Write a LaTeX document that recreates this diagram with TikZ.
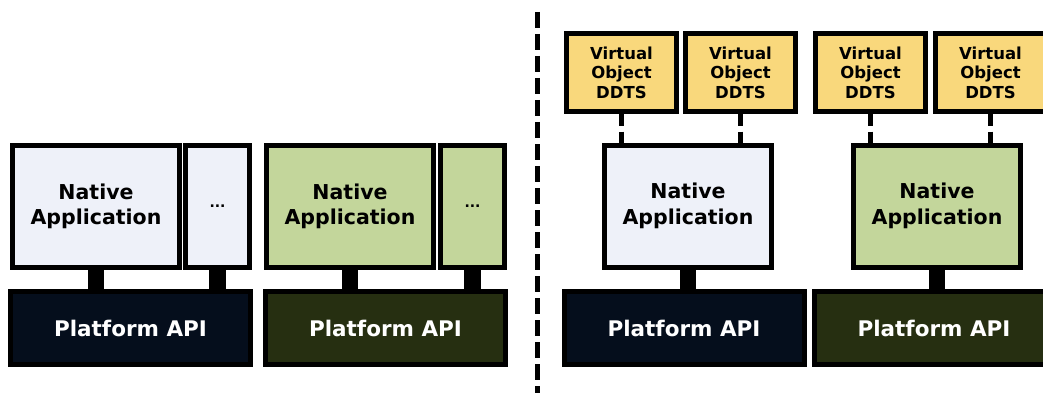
\documentclass[tikz,border=0pt]{standalone}
\usepackage{fontspec}
\setmainfont{DejaVu Sans}
\usepackage{tikz}
\usetikzlibrary{positioning}
\usepackage{xcolor}
\definecolor{paleblue}{HTML}{EEF1F9}
\definecolor{palegreen}{HTML}{C3D69B}
\definecolor{navy}{HTML}{050E1C}
\definecolor{darkolive}{HTML}{262F11}
\definecolor{gold}{HTML}{F9D87C}

\begin{document}
\begin{tikzpicture}[x=1pt, y=-1pt,
  app/.style = {draw, line width=5pt, fill=#1, minimum width=167pt, minimum height=122pt, inner sep=0pt, align=center, font=\bfseries\fontsize{20.5}{25.5}\selectfont},
  more/.style = {draw, line width=5pt, fill=#1, minimum width=64pt, minimum height=122pt, inner sep=0pt, font=\bfseries\fontsize{14}{16}\selectfont},
  api/.style = {draw, line width=5pt, fill=#1, text=white, minimum width=240pt, minimum height=73pt, inner sep=0pt, font=\bfseries\fontsize{21.5}{24}\selectfont},
  vobj/.style = {draw, line width=5pt, fill=gold, minimum width=110pt, minimum height=78pt, inner sep=0pt, align=center, font=\bfseries\fontsize{16.5}{19.5}\selectfont},
  bar/.style = {line width=16.5pt},
  vlink/.style = {line width=5pt, dash pattern=on 11.5pt off 6pt},
  divider/.style = {line width=5pt, dash pattern=on 16pt off 6pt}]
\useasboundingbox (0,0) rectangle (1043,393);
% left: native applications on the platform
\node[app=paleblue] (NA1) at (96,206.5) {Native\\Application};
\node[more=paleblue] (E1) [right=1pt of NA1] {...};
\node[api=navy] (P1) at (130.5,328) {Platform API};
\node[app=palegreen] (NA2) [right=12pt of E1] {Native\\Application};
\node[more=palegreen] (E2) [right=2pt of NA2] {...};
\node[api=darkolive] (P2) [right=10pt of P1] {Platform API};
\draw[bar] (NA1.south) -- (NA1.south |- P1.north);
\draw[bar] (E1.south) -- (E1.south |- P1.north);
\draw[bar] (NA2.south) -- (NA2.south |- P2.north);
\draw[bar] (E2.south) -- (E2.south |- P2.north);
% divider
\coordinate (T) at (537,12);
\coordinate (B) at (537,393);
\draw[divider] (T) -- (B);
% right: virtual objects on top of the native applications
\node[app=paleblue] (NA3) at (688,206) {Native\\Application};
\node[app=palegreen] (NA4) [right=77pt of NA3] {Native\\Application};
\node[api=navy] (P3) at (684,328) {Platform API};
\node[api=darkolive] (P4) [right=5pt of P3] {Platform API};
\node[vobj] (V1) at (621.5,72.5) {Virtual\\Object\\DDTS};
\node[vobj] (V2) [right=4pt of V1] {Virtual\\Object\\DDTS};
\node[vobj] (V3) at (870.5,72.5) {Virtual\\Object\\DDTS};
\node[vobj] (V4) [right=5pt of V3] {Virtual\\Object\\DDTS};
\draw[bar] (NA3.south) -- (NA3.south |- P3.north);
\draw[bar] (NA4.south) -- (NA4.south |- P4.north);
\draw[vlink] (V1.south) -- (V1.south |- NA3.north);
\draw[vlink] (V2.south) -- (V2.south |- NA3.north);
\draw[vlink] (V3.south) -- (V3.south |- NA4.north);
\draw[vlink] (V4.south) -- (V4.south |- NA4.north);
\end{tikzpicture}
\end{document}
